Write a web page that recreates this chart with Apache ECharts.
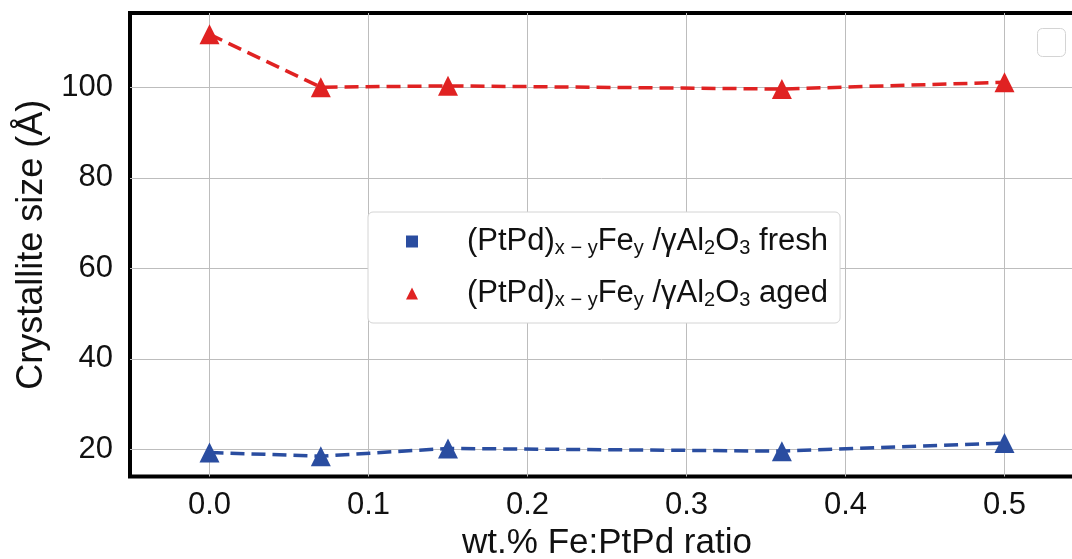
<!DOCTYPE html>
<html>
<head>
<meta charset="utf-8">
<script src="https://cdn.jsdelivr.net/npm/echarts@6/dist/echarts.min.js"></script>
<style>
  html, body { margin: 0; padding: 0; background: #fff; overflow: hidden; }
  #chart { width: 1072px; height: 559px; }
</style>
</head>
<body>
<div id="chart"></div>
<script>
// Fe:PtPd weight ratio of each sample
const ratios = [0.0, 0.07, 0.15, 0.36, 0.5];
// Crystallite size (Å) of the fresh and aged catalysts
const freshSize = [19.3, 18.5, 20.2, 19.6, 21.4];
const agedSize = [111.7, 100.0, 100.3, 99.6, 101.1];
// Tick values shown on each axis
const xTicks = [0.0, 0.1, 0.2, 0.3, 0.4, 0.5];
const yTicks = [20, 40, 60, 80, 100];

const freshName = '(PtPd)x−yFey /γAl2O3 fresh';
const agedName = '(PtPd)x−yFey /γAl2O3 aged';
const FONT = '"Liberation Sans", Arial, sans-serif';
const BLUE = '#2a4da0';
const RED = '#e02222';

function pair(xs, ys) { return xs.map((x, i) => [x, ys[i]]); }

const chart = echarts.init(document.getElementById('chart'), null, { renderer: 'canvas' });

const gridLine = { show: true, lineStyle: { color: '#bdbdbd', width: 1 } };

chart.setOption({
  animation: false,
  backgroundColor: '#fff',
  textStyle: { fontFamily: FONT },
  grid: {
    left: 130, top: 13, right: -12, bottom: 82.5,
    outerBoundsMode: 'none', containLabel: false,
    show: true, borderColor: '#000', borderWidth: 4, backgroundColor: 'transparent'
  },
  xAxis: {
    type: 'value', min: -0.05, max: 0.55,
    name: 'wt.% Fe:PtPd ratio', nameLocation: 'middle', nameGap: 48,
    nameTextStyle: { fontSize: 35, color: '#111', fontFamily: FONT },
    axisLine: { show: false },
    axisTick: { show: false, customValues: xTicks },
    axisLabel: {
      customValues: xTicks, fontSize: 31, color: '#111', margin: 13,
      formatter: v => v.toFixed(1)
    },
    splitLine: gridLine
  },
  yAxis: {
    type: 'value', min: 14, max: 116.4,
    name: 'Crystallite size (Å)', nameLocation: 'middle', nameGap: 80,
    nameTextStyle: { fontSize: 36, color: '#111', fontFamily: FONT },
    axisLine: { show: false },
    axisTick: { show: false, customValues: yTicks },
    axisLabel: { customValues: yTicks, fontSize: 31, color: '#111', margin: 17 },
    splitLine: gridLine
  },
  legend: {
    orient: 'vertical', left: 368, top: 212,
    padding: [13, 12, 13, 38],
    itemGap: 19, itemWidth: 12, itemHeight: 12,
    backgroundColor: '#fff', borderColor: '#d4d4d4', borderWidth: 1, borderRadius: 5,
    data: [
      { name: freshName, icon: 'rect' },
      { name: agedName, icon: 'triangle' }
    ],
    formatter: function (name) {
      const tail = name === freshName ? ' fresh' : ' aged';
      return '{m|(PtPd)}{s|x − y}{m|Fe}{s|y}{m| /γAl}{s|2}{m|O}{s|3}{m|' + tail + '}';
    },
    textStyle: {
      padding: [0, 0, 0, 44],
      rich: {
        m: { fontSize: 31, color: '#111', fontFamily: FONT, lineHeight: 34 },
        s: { fontSize: 20, color: '#111', fontFamily: FONT, lineHeight: 20, padding: [13, 0, 0, 0] }
      }
    }
  },
  graphic: [{
    type: 'rect', left: 1037, top: 28,
    shape: { width: 28, height: 28, r: 5 },
    style: { fill: '#fff', stroke: '#d4d4d4', lineWidth: 1 }
  }],
  series: [
    {
      name: freshName, type: 'line', data: pair(ratios, freshSize),
      symbol: 'triangle', symbolSize: 20, color: BLUE,
      lineStyle: { color: BLUE, width: 3.5, type: [14, 7] },
      itemStyle: { color: BLUE }
    },
    {
      name: agedName, type: 'line', data: pair(ratios, agedSize),
      symbol: 'triangle', symbolSize: 20, color: RED,
      lineStyle: { color: RED, width: 3.5, type: [14, 7] },
      itemStyle: { color: RED }
    }
  ]
});
</script>
</body>
</html>
